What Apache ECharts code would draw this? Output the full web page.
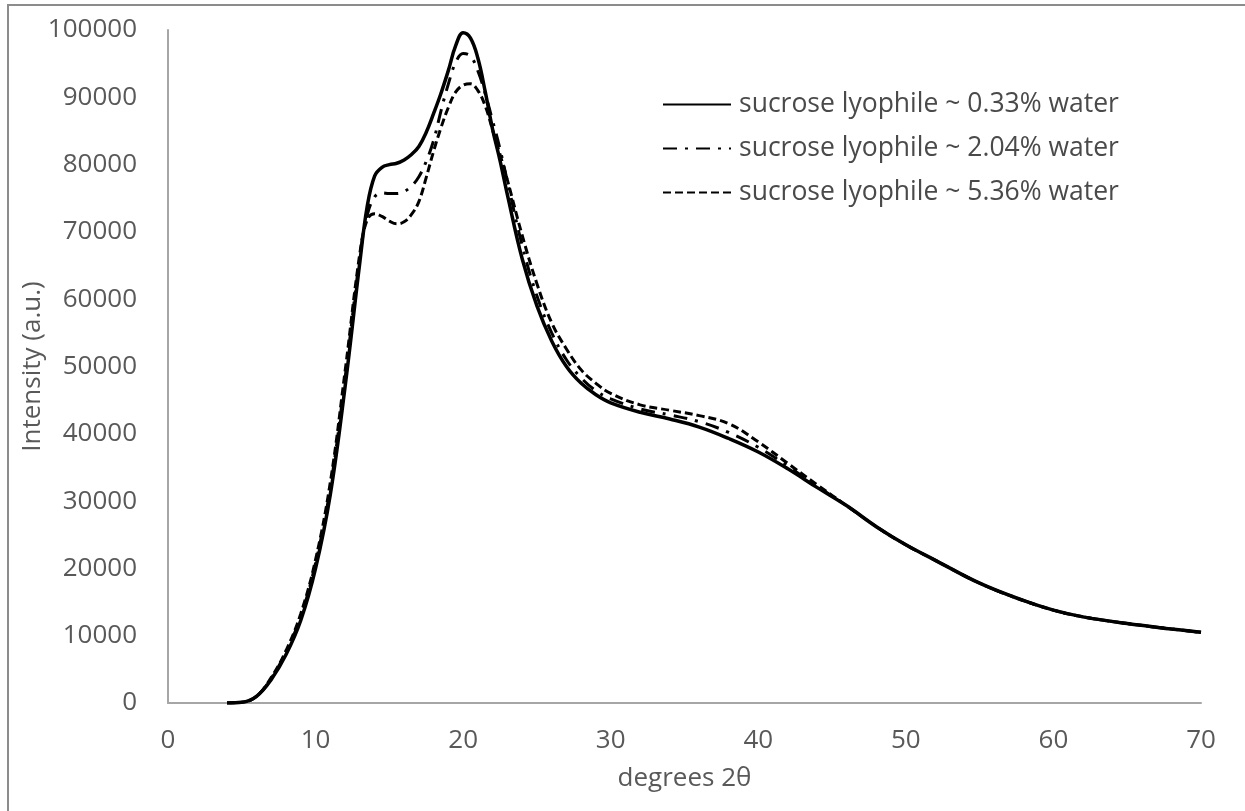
<!DOCTYPE html>
<html>
<head>
<meta charset="utf-8">
<script src="https://cdn.jsdelivr.net/npm/echarts@6/dist/echarts.min.js"></script>
<style>
html,body{margin:0;padding:0;background:#fff;}
#chart{width:1245px;height:811px;}
</style>
</head>
<body>
<div id="chart"></div>
<script>
// x positions (degrees 2θ)
var xValues = [4, 5, 6, 7, 8, 9, 10, 11, 12, 13, 13.5, 14, 14.5, 15, 15.5, 16, 16.5, 17, 17.5, 18, 18.5, 19, 19.5, 20, 20.5, 21, 21.5, 22, 22.5, 23, 24, 25, 26, 27, 28, 29, 30, 32, 34, 36, 38, 40, 42, 44, 46, 48, 50, 52, 55, 58, 60, 62, 65, 68, 70];

var seriesNames = ["sucrose lyophile ~ 0.33% water", "sucrose lyophile ~ 2.04% water", "sucrose lyophile ~ 5.36% water"];

var water033 = [0, 100, 1000, 3500, 7200, 12300, 20000, 31000, 47000, 65500, 73800, 78300, 79600, 80000, 80200, 80700, 81500, 82700, 84800, 87600, 90600, 94000, 97700, 99600, 98800, 95800, 90800, 85200, 80600, 75500, 66000, 59000, 53800, 50000, 47500, 45800, 44600, 43200, 42200, 41000, 39300, 37300, 34800, 32000, 29300, 26200, 23500, 21200, 17800, 15200, 13800, 12800, 11800, 11000, 10500];

var water204 = [0, 100, 1000, 3700, 7600, 12900, 20800, 32000, 48300, 66300, 72500, 75200, 75800, 75700, 75700, 76000, 76800, 78200, 80500, 83600, 88000, 92000, 95200, 96500, 96100, 93900, 90500, 86500, 82300, 77500, 68000, 60500, 55000, 51000, 48300, 46400, 45200, 43700, 42800, 41800, 40200, 38000, 35200, 32200, 29300, 26200, 23500, 21200, 17800, 15200, 13800, 12800, 11800, 11000, 10500];

var water536 = [0, 100, 1000, 3800, 7800, 13300, 21300, 32800, 49300, 66800, 71800, 72700, 72300, 71600, 71200, 71500, 72600, 74500, 78100, 82000, 85500, 88500, 90800, 91800, 92000, 91000, 88700, 85100, 81500, 77700, 69500, 62300, 56500, 52600, 49500, 47500, 46000, 44300, 43500, 42700, 41500, 38800, 35600, 32400, 29300, 26200, 23500, 21200, 17800, 15200, 13800, 12800, 11800, 11000, 10500];

var xTicks = [0, 10, 20, 30, 40, 50, 60, 70];
var yTicks = [0, 10000, 20000, 30000, 40000, 50000, 60000, 70000, 80000, 90000, 100000];

function pairs(ys) {
  return xValues.map(function (x, i) { return [x, ys[i]]; });
}

var FONT = "'Open Sans', 'Liberation Sans', sans-serif";
var TXT = '#595959';

var chart = echarts.init(document.getElementById('chart'), null, {renderer: 'canvas'});
chart.setOption({
  animation: false,
  backgroundColor: '#ffffff',
  graphic: [{
    type: 'polyline',
    shape: {points: [[8, 811], [8, 5], [1245, 5]]},
    style: {stroke: '#8c8c8c', lineWidth: 2, fill: null},
    silent: true
  }],
  grid: {left: 168, right: 44, top: 30, bottom: 108, containLabel: false},
  legend: {
    orient: 'vertical',
    left: 662,
    top: 91,
    padding: 0,
    itemWidth: 68,
    itemHeight: 14,
    itemGap: 17,
    itemStyle: {opacity: 0, borderWidth: 0},
    data: seriesNames,
    textStyle: {color: '#4a4a4a', fontFamily: FONT, fontSize: 26.5, lineHeight: 24, padding: [0, 0, 0, 3]}
  },
  xAxis: {
    type: 'value',
    min: 0, max: 70, interval: 10,
    name: 'degrees 2θ',
    nameLocation: 'middle',
    nameGap: 63,
    nameMoveOverlap: false,
    nameTextStyle: {color: TXT, fontFamily: FONT, fontSize: 26},
    axisLine: {show: true, lineStyle: {color: '#a6a6a6', width: 2}},
    axisTick: {show: false},
    splitLine: {show: false},
    axisLabel: {
      color: TXT, fontFamily: FONT, fontSize: 26, margin: 25,
      formatter: function (v) { return xTicks.indexOf(v) >= 0 ? String(v) : ''; }
    }
  },
  yAxis: {
    type: 'value',
    min: 0, max: 100000, interval: 10000,
    name: 'Intensity (a.u.)',
    nameLocation: 'middle',
    nameGap: 122,
    nameMoveOverlap: false,
    nameTextStyle: {color: TXT, fontFamily: FONT, fontSize: 26},
    axisLine: {show: true, lineStyle: {color: '#a6a6a6', width: 2}},
    axisTick: {show: false},
    splitLine: {show: false},
    axisLabel: {
      color: TXT, fontFamily: FONT, fontSize: 26, margin: 31,
      formatter: function (v) { return yTicks.indexOf(v) >= 0 ? String(v) : ''; }
    }
  },
  series: [
    {
      name: seriesNames[0], type: 'line', data: pairs(water033), smooth: 0.4,
      symbol: 'none', showSymbol: false,
      lineStyle: {color: '#000000', width: 3.5, type: 'solid'},
      itemStyle: {color: '#000000'}
    },
    {
      name: seriesNames[1], type: 'line', data: pairs(water204), smooth: 0.4,
      symbol: 'none', showSymbol: false,
      lineStyle: {color: '#000000', width: 3, type: [14, 8, 3, 8]},
      itemStyle: {color: '#000000'}
    },
    {
      name: seriesNames[2], type: 'line', data: pairs(water536), smooth: 0.4,
      symbol: 'none', showSymbol: false,
      lineStyle: {color: '#000000', width: 3, type: [8, 4]},
      itemStyle: {color: '#000000'}
    }
  ]
});
</script>
</body>
</html>
